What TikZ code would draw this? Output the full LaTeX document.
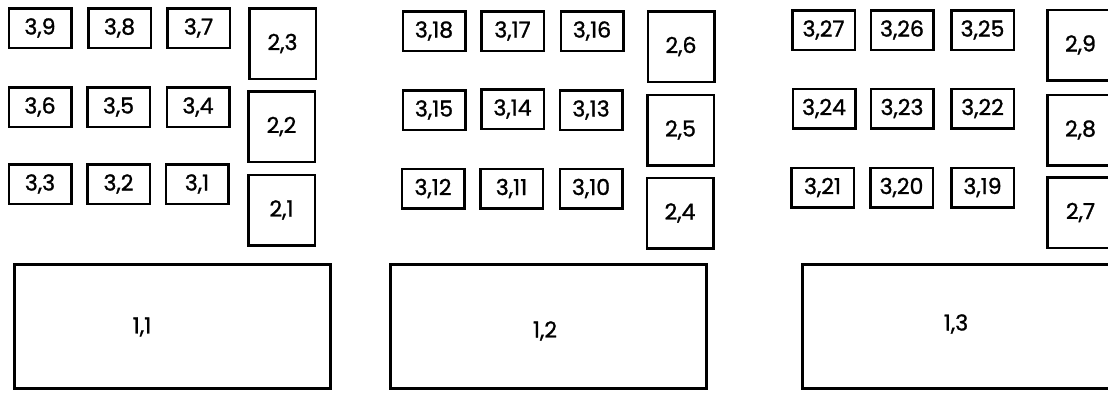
\documentclass[tikz,border=0pt]{standalone}
\usepackage{fontspec}
\newfontfamily\labelfont{Poppins}[UprightFeatures={FakeBold=1.2}]
\tikzset{every node/.style={font=\labelfont\fontsize{22}{24}\selectfont},box/.style={draw,line width=2.5pt,inner sep=0pt},
cell/.style={box,minimum width=62.5pt,minimum height=39.5pt},tall/.style={box,minimum width=66.5pt,minimum height=70.5pt},
big/.style={box,minimum width=316pt,minimum height=124pt}}
\begin{document}
\begin{tikzpicture}[x=1pt,y=-1pt]
\useasboundingbox (0,0) rectangle (1108,392);\clip (0,0) rectangle (1108,392);
% small cells
\foreach \n/\x/\y in {9/40/28,8/119.5/28,7/198.5/28,6/40/107,5/118.5/107,4/198/107,3/40/184,2/118.5/184,1/197/184,
18/434/31,17/512.5/31,16/592/31,15/434/110,14/512.5/109,13/591/110,12/433/188.5,11/511.5/188.5,10/591/188.5,
27/823.5/30,26/902/30,25/982.5/30,24/824/108.5,23/902/108.5,22/982.5/108.5,21/822.5/187.5,20/901.5/187.5,19/982.5/187.5}
{\node[cell] (c\n) at (\x,\y) {3,\n};}
% tall cells
\foreach \n/\x/\y in {3/282.5/43.5,2/281.5/126.5,1/281.5/210,6/681/46.5,5/680.5/130,4/680/213,9/1080.5/45,8/1080.5/130,7/1080.5/212.5}
{\node[tall] (s\n) at (\x,\y) {2,\n};}
% bottom blocks
\foreach \n/\x/\tx/\ty in {1/172.5/142/327,2/548.5/545/331,3/960.5/956/324}
{\node[big] (b\n) at (\x,326.5) {};\node (t\n) at (\tx,\ty) {1,\n};}
\end{tikzpicture}
\end{document}
